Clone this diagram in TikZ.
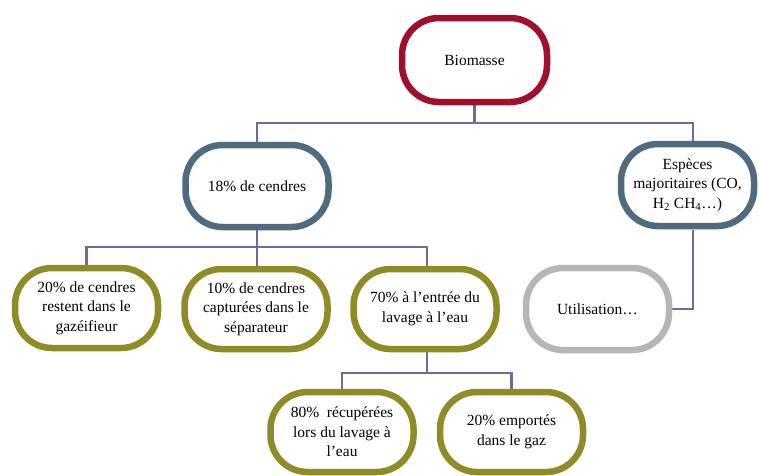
\documentclass[tikz,border=0pt]{standalone}
\usepackage{fontspec}
\setmainfont{Liberation Serif}
\usetikzlibrary{backgrounds}
\definecolor{cred}{RGB}{160,16,42}
\definecolor{cslate}{RGB}{79,107,128}
\definecolor{colive}{RGB}{143,140,40}
\definecolor{cgrey}{RGB}{182,182,182}
\definecolor{cline}{RGB}{108,108,162}
\tikzset{
  pill/.style={draw, line width=6.5pt, fill=white, rounded corners=37pt, inner sep=0pt,
    minimum width=143pt, minimum height=82pt, align=center,
    font=\rmfamily\fontsize{15.5}{19.5}\selectfont},
  redpill/.style={pill, draw=cred, minimum width=145pt, minimum height=84pt},
  slatepill/.style={pill, draw=cslate},
  olivepill/.style={pill, draw=colive, minimum height=80pt},
  greypill/.style={pill, draw=cgrey},
  conn/.style={draw=cline, line width=2.3pt}
}
\begin{document}
\begin{tikzpicture}[x=1pt,y=-1pt]
\useasboundingbox (0,0) rectangle (759,475);
% nodes
\node[redpill] (biom) at (474.5,60) {Biomasse};
\node[slatepill] (cend) at (257,186) {18\% de cendres};
\node[slatepill, minimum width=133pt] (esp) at (687.5,185) {Espèces\\majoritaires (CO,\\H\textsubscript{2} CH\textsubscript{4}…)};
\node[olivepill] (b1) at (86.5,308) {20\% de cendres\\restent dans le\\gazéifieur};
\node[olivepill] (b2) at (256,309) {10\% de cendres\\capturées dans le\\séparateur};
\node[olivepill] (b3) at (425,309) {70\% à l’entrée du\\lavage à l’eau};
\node[greypill] (util) at (597.5,309) {Utilisation…};
\node[olivepill] (b4) at (342,432) {80\%~ récupérées\\lors du lavage à\\l’eau};
\node[olivepill] (b5) at (511.5,432) {20\% emportés\\dans le gaz};
% connectors
\coordinate (j1) at (474.5,123);
\coordinate (j2) at (257,247);
\coordinate (j3) at (427,373);
\coordinate (espin) at (693,123);
\coordinate (espout) at (693,230);
\begin{scope}[on background layer]
\draw[conn] (biom.south) -- (j1);
\draw[conn] (j1) -| (cend.north);
\draw[conn] (j1) -- (espin) -- (espin |- esp.north);
\draw[conn] (cend.south) -- (j2);
\draw[conn] (j2) -| (b1.north);
\draw[conn] (j2) -- (b2.north -| j2);
\draw[conn] (j2) -| ([xshift=2pt]b3.north);
\draw[conn] (espout) |- (util.east);
\draw[conn] ([xshift=2pt]b3.south) -- (j3);
\draw[conn] (j3) -| (b4.north);
\draw[conn] (j3) -| (b5.north);
\end{scope}
\end{tikzpicture}
\end{document}
